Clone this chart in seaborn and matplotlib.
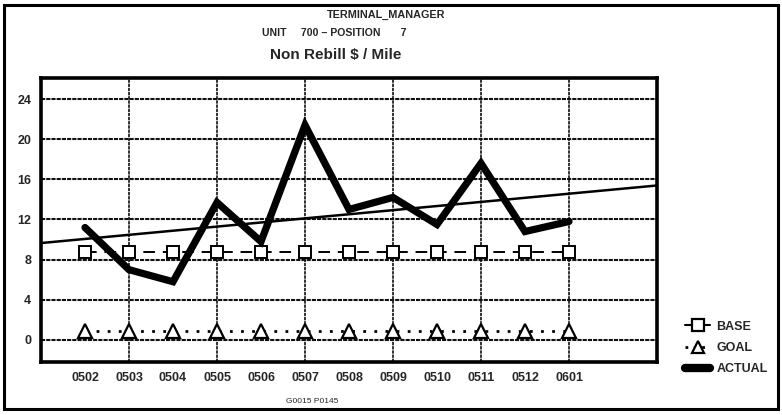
import matplotlib.pyplot as plt
import numpy as np
import pandas as pd
import seaborn as sns
from matplotlib.lines import Line2D
from matplotlib.patches import Rectangle

periods = ['0502', '0503', '0504', '0505', '0506', '0507',
           '0508', '0509', '0510', '0511', '0512', '0601']
actual = [11.2, 7.0, 5.8, 13.7, 9.8, 21.4, 13.0, 14.2, 11.5, 17.6, 10.8, 11.8]
base = [8.8] * 12
goal = [0.9] * 12
y_ticks = [0, 4, 8, 12, 16, 20, 24]

sns.set_style('white')
plt.rcParams['font.family'] = ['Liberation Sans', 'DejaVu Sans']

df = pd.DataFrame({'pos': np.arange(len(periods)), 'period': periods,
                   'ACTUAL': actual, 'BASE': base, 'GOAL': goal})

fig = plt.figure(figsize=(7.82, 4.15), dpi=100)
ax = fig.add_axes([41 / 782, 1 - 362 / 415, 616 / 782, 284 / 415])
ax.set_xlim(-1, 13)
ax.set_ylim(-2.2, 26.1)

# grid
for y in y_ticks:
    ax.axhline(y, color='#111111', lw=1.5, ls=(0, (2, 0.5)), zorder=1)
for i in range(1, len(periods), 2):
    ax.axvline(i, color='#111111', lw=1.2, ls=(0, (2, 0.5)), zorder=1)

sns.lineplot(data=df, x='pos', y='BASE', ax=ax, color='black', lw=1.4,
             marker='s', markersize=8.5, markerfacecolor='white',
             markeredgecolor='black', markeredgewidth=1.4, zorder=3)
ax.lines[-1].set_dashes((6, 4))
sns.lineplot(data=df, x='pos', y='GOAL', ax=ax, color='black', lw=2.0,
             marker='^', markersize=9.5, markerfacecolor='white',
             markeredgecolor='black', markeredgewidth=1.6, zorder=3)
ax.lines[-1].set_dashes((1, 3))
sns.regplot(data=df, x='pos', y='ACTUAL', ax=ax, scatter=False, ci=None,
            truncate=False, line_kws={'color': 'black', 'lw': 1.8, 'zorder': 3})
sns.lineplot(data=df, x='pos', y='ACTUAL', ax=ax, color='black', lw=5.2,
             solid_joinstyle='miter', zorder=4)

ax.set_xlim(-1, 13)
ax.set_xticks(df['pos'])
ax.set_xticklabels(periods, fontsize=9, fontweight='bold')
ax.set_yticks(y_ticks)
ax.set_yticklabels([str(v) for v in y_ticks], fontsize=9, fontweight='bold')
ax.tick_params(length=0, pad=7)
ax.set_xlabel('')
ax.set_ylabel('')
for s in ax.spines.values():
    s.set_visible(True)
    s.set_color('black')
    s.set_linewidth(2.6)

fig.text(386 / 782, 1 - 15 / 415, 'TERMINAL_MANAGER', ha='center', va='center',
         fontsize=7.8, fontweight='bold')
fig.text(262 / 782, 1 - 33 / 415, 'UNIT     700 \u2013 POSITION       7', ha='left',
         va='center', fontsize=7.6, fontweight='bold')
fig.text(336 / 782, 1 - 55 / 415, 'Non Rebill $ / Mile', ha='center', va='center',
         fontsize=11, fontweight='bold')
fig.text(312 / 782, 1 - 401 / 415, 'G0015 P0145', ha='center', va='center',
         fontsize=6)

handles = [
    Line2D([], [], color='black', lw=1.5, marker='s', markersize=8,
           markerfacecolor='white', markeredgewidth=1.6),
    Line2D([], [], color='black', lw=2, ls=(0, (1, 2)), marker='^', markersize=9,
           markerfacecolor='white', markeredgewidth=1.6),
    Line2D([], [], color='black', lw=6),
]
fig.legend(handles, ['BASE', 'GOAL', 'ACTUAL'], loc='center left',
           bbox_to_anchor=(674 / 782, 1 - 348 / 415), frameon=False,
           handlelength=2.0, handletextpad=0.5, labelspacing=0.75,
           prop={'size': 9, 'weight': 'bold'})

fig.add_artist(Rectangle((4 / 782, 6 / 415), 774 / 782, 404 / 415,
                         transform=fig.transFigure, fill=False,
                         edgecolor='black', lw=2.2))

fig.savefig('out.png', dpi=100)
